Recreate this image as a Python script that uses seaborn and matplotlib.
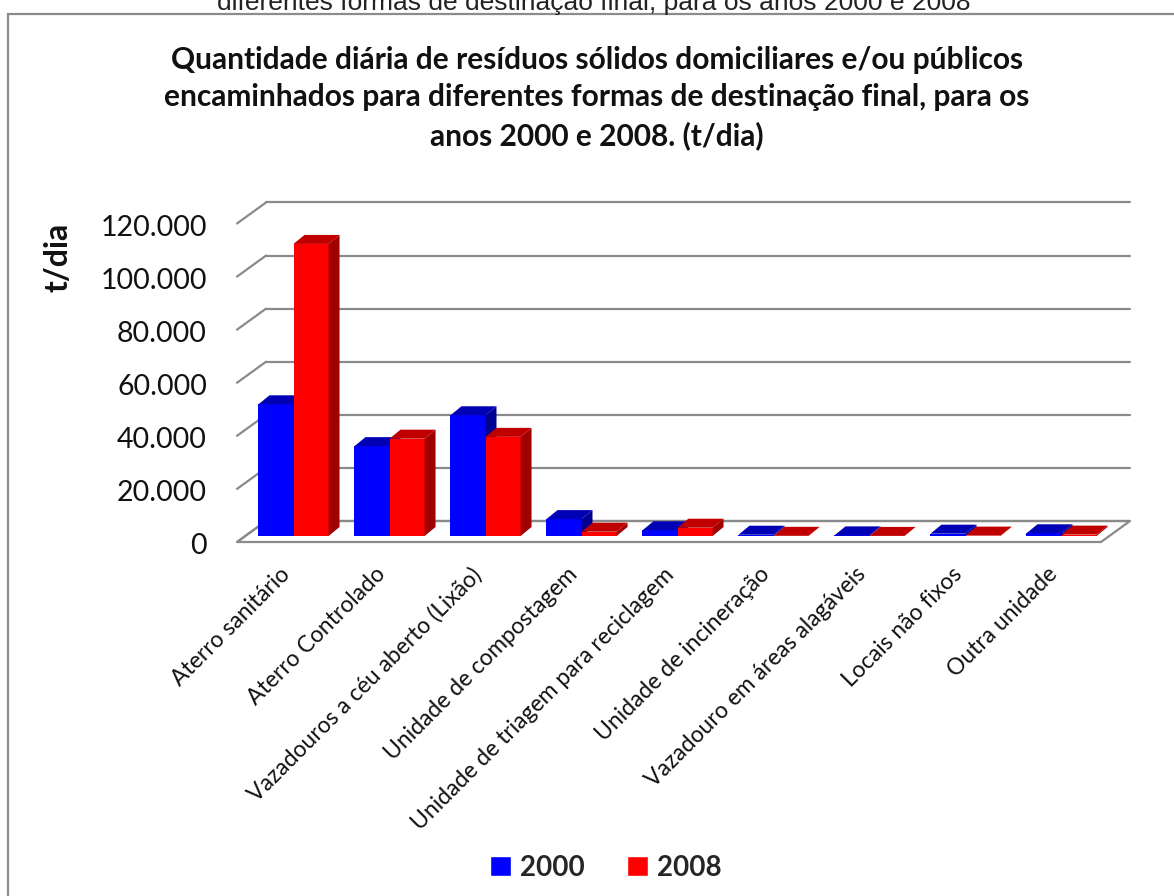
import numpy as np
import pandas as pd
import seaborn as sns
import matplotlib
matplotlib.use("Agg")
import matplotlib.pyplot as plt
import matplotlib.transforms as mtransforms
from matplotlib.patches import Polygon, Rectangle, Patch
from matplotlib.lines import Line2D

categorias = ["Aterro sanitário", "Aterro Controlado", "Vazadouros a céu aberto (Lixão)",
              "Unidade de compostagem", "Unidade de triagem para reciclagem",
              "Unidade de incineração", "Vazadouro em áreas alagáveis",
              "Locais não fixos", "Outra unidade"]
valores_2000 = [49614.5, 33854.3, 45484.7, 6364.5, 2158.1, 483.1, 228.1, 877.3, 1015.1]
valores_2008 = [110044.3, 36673.2, 37360.8, 1635.4, 3122.1, 67.8, 35.0, 146.0, 525.2]
anos = ["2000", "2008"]
y_ticks = [0, 20000, 40000, 60000, 80000, 100000, 120000]

titulo = ("Quantidade diária de resíduos sólidos domiciliares e/ou públicos\n"
          "encaminhados para diferentes formas de destinação final, para os\n"
          "anos 2000 e 2008. (t/dia)")
texto_topo = "diferentes formas de destinação final, para os anos 2000 e 2008"

df = pd.DataFrame({
    "categoria": categorias * 2,
    "valor": valores_2000 + valores_2008,
    "ano": [anos[0]] * len(categorias) + [anos[1]] * len(categorias),
})

sns.set_theme(style="white")
plt.rcParams["font.family"] = ["Lato", "DejaVu Sans"]

W, H = 1174, 896
fig = plt.figure(figsize=(W / 100, H / 100), dpi=100)
fig.patch.set_facecolor("white")

# axes = front plane of the bars (pixels)
left_px, right_px = 245.5, 1109.5
base_px, top_px = 536.0, 217.5
ax = fig.add_axes([left_px / W, (H - base_px) / H, (right_px - left_px) / W, (base_px - top_px) / H])
ax.set_facecolor("none")

blue, red = "#0000FF", "#FF0000"
sns.barplot(data=df, x="categoria", y="valor", hue="ano", palette=[blue, red],
            width=0.73, saturation=1, ax=ax, legend=False, zorder=3)
ax.set_xlim(-0.5, len(categorias) - 0.5)
ax.set_ylim(0, 120000)
for s in ax.spines.values():
    s.set_visible(False)
ax.set_xticks([])
ax.set_yticks([])
ax.set_xlabel("")
ax.set_ylabel("")

def off(dx, dy):
    # dx right, dy down in pixels
    return ax.transData + mtransforms.ScaledTranslation(dx / 100, -dy / 100, fig.dpi_scale_trans)

grid_c = "#8a8a8a"
FRONT = (-8.5, 6.0)
BACK = (20.5, -15.0)
xmin, xmax = -0.5, len(categorias) - 0.5
IDT = mtransforms.IdentityTransform()

def px(x, y, o):
    p = ax.transData.transform((x, y))
    return (p[0] + o[0], p[1] - o[1])

# floor
fl = [px(xmin, 0, FRONT), px(xmax, 0, FRONT), px(xmax, 0, BACK), px(xmin, 0, BACK)]
fig.add_artist(Polygon(fl, closed=True, facecolor="white", edgecolor=grid_c, lw=1.6,
                       transform=IDT, zorder=1))
# back wall gridlines + side wall diagonals
for v in y_ticks:
    a = px(xmin, v, BACK); b = px(xmax, v, BACK); c = px(xmin, v, FRONT)
    fig.add_artist(Line2D([a[0], b[0]], [a[1], b[1]], color=grid_c, lw=1.6,
                          transform=IDT, zorder=1.5))
    fig.add_artist(Line2D([c[0], a[0]], [c[1], a[1]], color=grid_c, lw=1.6,
                          transform=IDT, zorder=1.5))

# 3D faces for bars
DX, DY = 11.0, 9.0
dark = {blue: ("#0000B4", "#000092"), red: ("#C00000", "#A00000")}
bars = sorted(ax.patches, key=lambda p: p.get_x())
for i, p in enumerate(bars):
    x0 = p.get_x(); x1 = x0 + p.get_width(); h = p.get_height()
    fc = matplotlib.colors.to_hex(p.get_facecolor())
    topc, sidec = dark[blue] if fc.lower() == blue.lower() else dark[red]
    z = 3 + i * 0.01
    p.set_visible(False)
    b0 = ax.transData.transform((x0, 0)); t1 = ax.transData.transform((x1, h))
    t0 = ax.transData.transform((x0, h)); b1 = ax.transData.transform((x1, 0))
    side = [tuple(b1), tuple(t1), (t1[0] + DX, t1[1] + DY), (b1[0] + DX, b1[1] + DY)]
    top = [tuple(t0), tuple(t1), (t1[0] + DX, t1[1] + DY), (t0[0] + DX, t0[1] + DY)]
    front = [tuple(b0), tuple(b1), tuple(t1), tuple(t0)]
    fig.add_artist(Polygon(front, closed=True, facecolor=fc, edgecolor="none",
                           transform=IDT, zorder=z))
    fig.add_artist(Polygon(side, closed=True, facecolor=sidec, edgecolor="none",
                           transform=IDT, zorder=z + 0.002))
    fig.add_artist(Polygon(top, closed=True, facecolor=topc, edgecolor="none",
                           transform=IDT, zorder=z + 0.003))

# y tick labels on the front-left edge
for v in y_ticks:
    lab = f"{v:,}".replace(",", ".")
    ax.text(xmin, v, lab, transform=off(-38.5, 10), ha="right", va="center",
            fontsize=20.5, color="#111111", clip_on=False)

# x labels
for i, c in enumerate(categorias):
    ax.text(i, 0, c, transform=off(-7.0, 35), ha="right", va="center", rotation=45,
            rotation_mode="anchor", fontsize=16.5, color="#111111", clip_on=False)

# y axis label
fig.text(58 / W, 1 - 257 / H, "t/dia", rotation=90, ha="center", va="center",
         fontsize=23, fontweight="bold", color="#111111")

# title
fig.text(597 / W, 1 - 98 / H, titulo, ha="center", va="center", fontsize=21.5,
         fontweight="bold", color="#111111", linespacing=1.42)

# cropped top text (as in the reference)
fig.text(594 / W, 1 - 10 / H, texto_topo, ha="center", va="baseline",
         fontsize=19, color="#222222", family=["Liberation Sans", "DejaVu Sans"])

# border
fig.add_artist(Rectangle((8 / W, -0.1), 1.2, 1.1 - 14 / H, fill=False, edgecolor="#8c8c8c",
                         lw=1.6, transform=fig.transFigure))

# legend
handles = [Patch(facecolor=blue, label=anos[0]), Patch(facecolor=red, label=anos[1])]
fig.legend(handles=handles, loc="center", bbox_to_anchor=(606 / W, 1 - 868 / H), ncol=2,
           frameon=False, prop={"weight": "bold", "size": 20, "family": ["Lato", "DejaVu Sans"]},
           handlelength=0.75, handleheight=0.75, handletextpad=0.35, columnspacing=1.5)

fig.savefig("out.png", dpi=100)
